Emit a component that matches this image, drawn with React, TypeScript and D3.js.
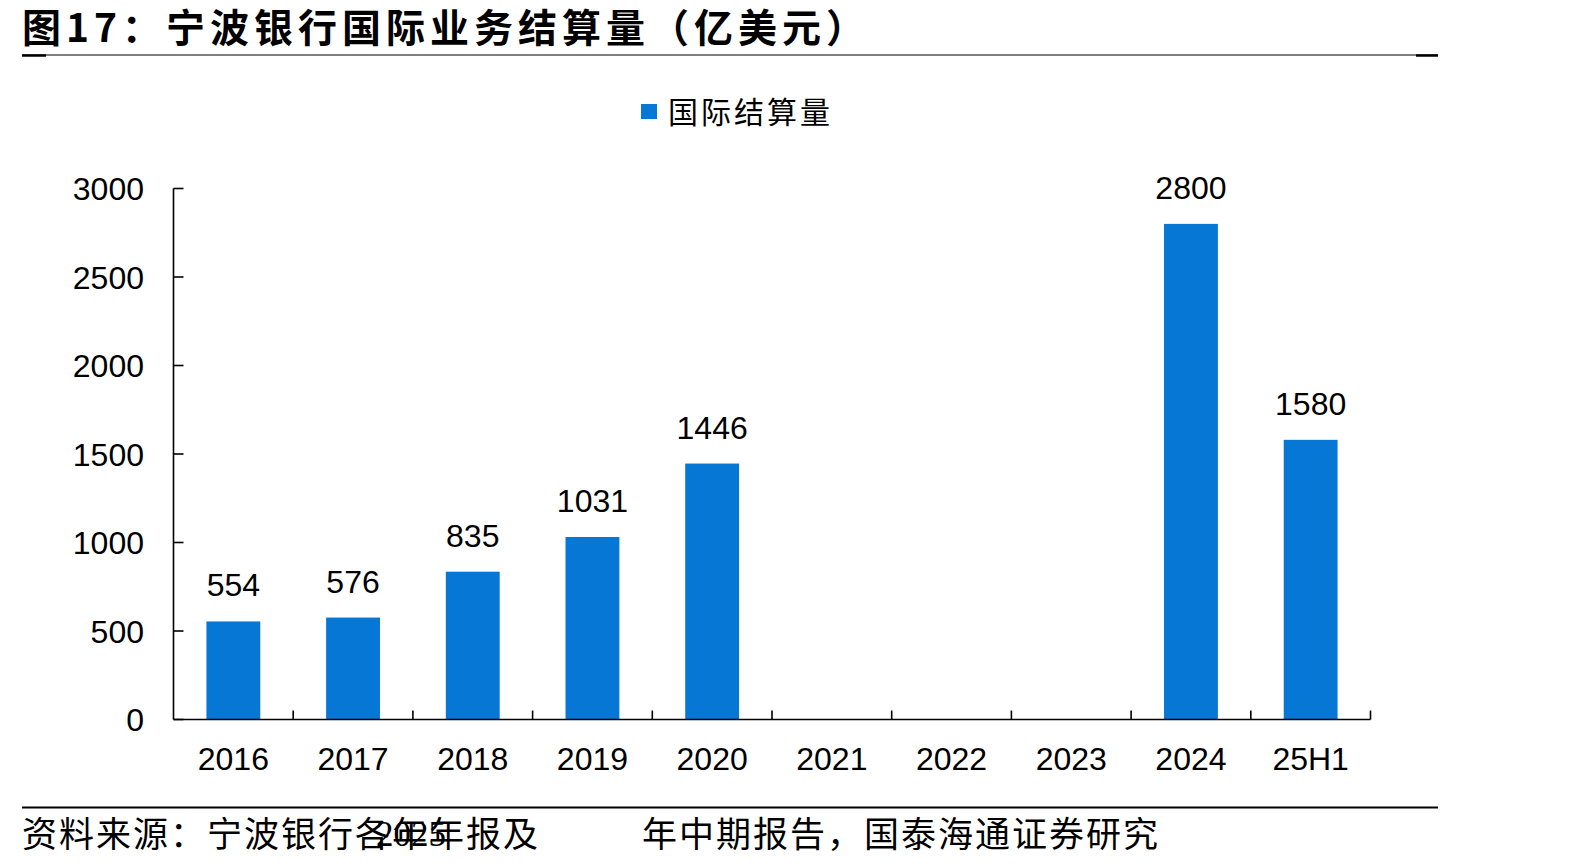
import * as d3 from "d3";
import React, { useEffect, useRef } from "react";

const categories = ["2016", "2017", "2018", "2019", "2020", "2021", "2022", "2023", "2024", "25H1"];
const settlement: (number | null)[] = [554, 576, 835, 1031, 1446, null, null, null, 2800, 1580];
const yTicks = [0, 500, 1000, 1500, 2000, 2500, 3000];

const TITLE = "图17：宁波银行国际业务结算量（亿美元）";
const LEGEND = "国际结算量";
const SOURCE_A = "资料来源：宁波银行各年年报及";
const SOURCE_YEAR = "2025";
const SOURCE_B = "年中期报告，国泰海通证券研究";

const W = 1594;
const H = 867;
const BLUE = "#0777d5";
const CJK = "'Noto Sans CJK SC', sans-serif";
const NUM = "'Liberation Sans', Arial, sans-serif";

const App: React.FC = () => {
  const ref = useRef<SVGSVGElement>(null);

  useEffect(() => {
    if (!ref.current) return;
    const svg = d3.select(ref.current);
    svg.selectAll("*").remove();

    // plot area
    const left = 173.5;
    const right = 1370.5;
    const top = 188.5;
    const bottom = 719.5;

    const x = d3
      .scaleBand()
      .domain(categories)
      .range([left, right])
      .paddingInner(0.55)
      .paddingOuter(0.275);
    const step = x.step();

    const y = d3.scaleLinear().domain([0, 3000]).range([bottom, top]);

    // title + rules
    svg
      .append("text")
      .attr("x", 22)
      .attr("y", 42)
      .attr("font-family", CJK)
      .attr("font-weight", 700)
      .attr("font-size", 39)
      .attr("letter-spacing", 5)
      .attr("fill", "#000")
      .text(TITLE);

    svg.append("line").attr("x1", 22).attr("x2", 1438).attr("y1", 55).attr("y2", 55)
      .attr("stroke", "#000").attr("stroke-width", 1.2);
    svg.append("line").attr("x1", 22).attr("x2", 46).attr("y1", 55.5).attr("y2", 55.5)
      .attr("stroke", "#000").attr("stroke-width", 2.5);
    svg.append("line").attr("x1", 1416).attr("x2", 1438).attr("y1", 55.5).attr("y2", 55.5)
      .attr("stroke", "#000").attr("stroke-width", 2.5);

    // legend
    svg.append("rect").attr("x", 641).attr("y", 104).attr("width", 16).attr("height", 15).attr("fill", BLUE);
    svg
      .append("text")
      .attr("x", 668)
      .attr("y", 110)
      .attr("dominant-baseline", "central")
      .attr("font-family", CJK)
      .attr("font-size", 30)
      .attr("letter-spacing", 3)
      .attr("fill", "#000")
      .text(LEGEND);

    // bars
    const rows = categories.map((c, i) => ({ c, v: settlement[i] }));
    svg
      .append("g")
      .selectAll("rect")
      .data(rows.filter((d) => d.v !== null))
      .enter()
      .append("rect")
      .attr("x", (d) => x(d.c)!)
      .attr("y", (d) => y(d.v as number))
      .attr("width", x.bandwidth())
      .attr("height", (d) => bottom - y(d.v as number))
      .attr("fill", BLUE);

    // value labels
    svg
      .append("g")
      .selectAll("text")
      .data(rows.filter((d) => d.v !== null))
      .enter()
      .append("text")
      .attr("x", (d) => x(d.c)! + x.bandwidth() / 2)
      .attr("y", (d) => y(d.v as number) - 25)
      .attr("text-anchor", "middle")
      .attr("font-family", NUM)
      .attr("font-size", 32)
      .attr("fill", "#000")
      .text((d) => String(d.v));

    // y axis
    const ya = svg.append("g").attr("stroke", "#000").attr("stroke-width", 1.6);
    ya.append("line").attr("x1", left).attr("x2", left).attr("y1", top).attr("y2", bottom);
    ya.selectAll("line.tick")
      .data(yTicks)
      .enter()
      .append("line")
      .attr("class", "tick")
      .attr("x1", left)
      .attr("x2", left + 10)
      .attr("y1", (d) => y(d))
      .attr("y2", (d) => y(d));

    svg
      .append("g")
      .selectAll("text")
      .data(yTicks)
      .enter()
      .append("text")
      .attr("x", 144)
      .attr("y", (d) => y(d))
      .attr("dy", "0.36em")
      .attr("text-anchor", "end")
      .attr("font-family", NUM)
      .attr("font-size", 32)
      .attr("fill", "#000")
      .text((d) => String(d));

    // x axis, ticks on the category boundaries
    const xa = svg.append("g").attr("stroke", "#000").attr("stroke-width", 1.6);
    xa.append("line").attr("x1", left).attr("x2", right).attr("y1", bottom).attr("y2", bottom);
    xa.selectAll("line.tick")
      .data(categories)
      .enter()
      .append("line")
      .attr("class", "tick")
      .attr("x1", (d) => x(d)! + x.bandwidth() / 2 + step / 2)
      .attr("x2", (d) => x(d)! + x.bandwidth() / 2 + step / 2)
      .attr("y1", bottom)
      .attr("y2", bottom - 9);

    svg
      .append("g")
      .selectAll("text")
      .data(categories)
      .enter()
      .append("text")
      .attr("x", (d) => x(d)! + x.bandwidth() / 2)
      .attr("y", 770)
      .attr("text-anchor", "middle")
      .attr("font-family", NUM)
      .attr("font-size", 32)
      .attr("fill", "#000")
      .text((d) => d);

    // source
    svg.append("line").attr("x1", 22).attr("x2", 1438).attr("y1", 807.5).attr("y2", 807.5)
      .attr("stroke", "#000").attr("stroke-width", 2);
    const src = svg.append("g").attr("font-size", 35).attr("fill", "#000");
    src.append("text").attr("x", 22).attr("y", 847).attr("font-family", CJK).attr("letter-spacing", 2).text(SOURCE_A);
    src.append("text").attr("x", 376).attr("y", 846).attr("font-family", "'Liberation Serif', serif").text(SOURCE_YEAR);
    src.append("text").attr("x", 642).attr("y", 847).attr("font-family", CJK).attr("letter-spacing", 2).text(SOURCE_B);
  }, []);

  return (
    <svg
      ref={ref}
      width={W}
      height={H}
      style={{ position: "absolute", left: 0, top: 0, background: "#fff" }}
    ></svg>
  );
};

export default App;
